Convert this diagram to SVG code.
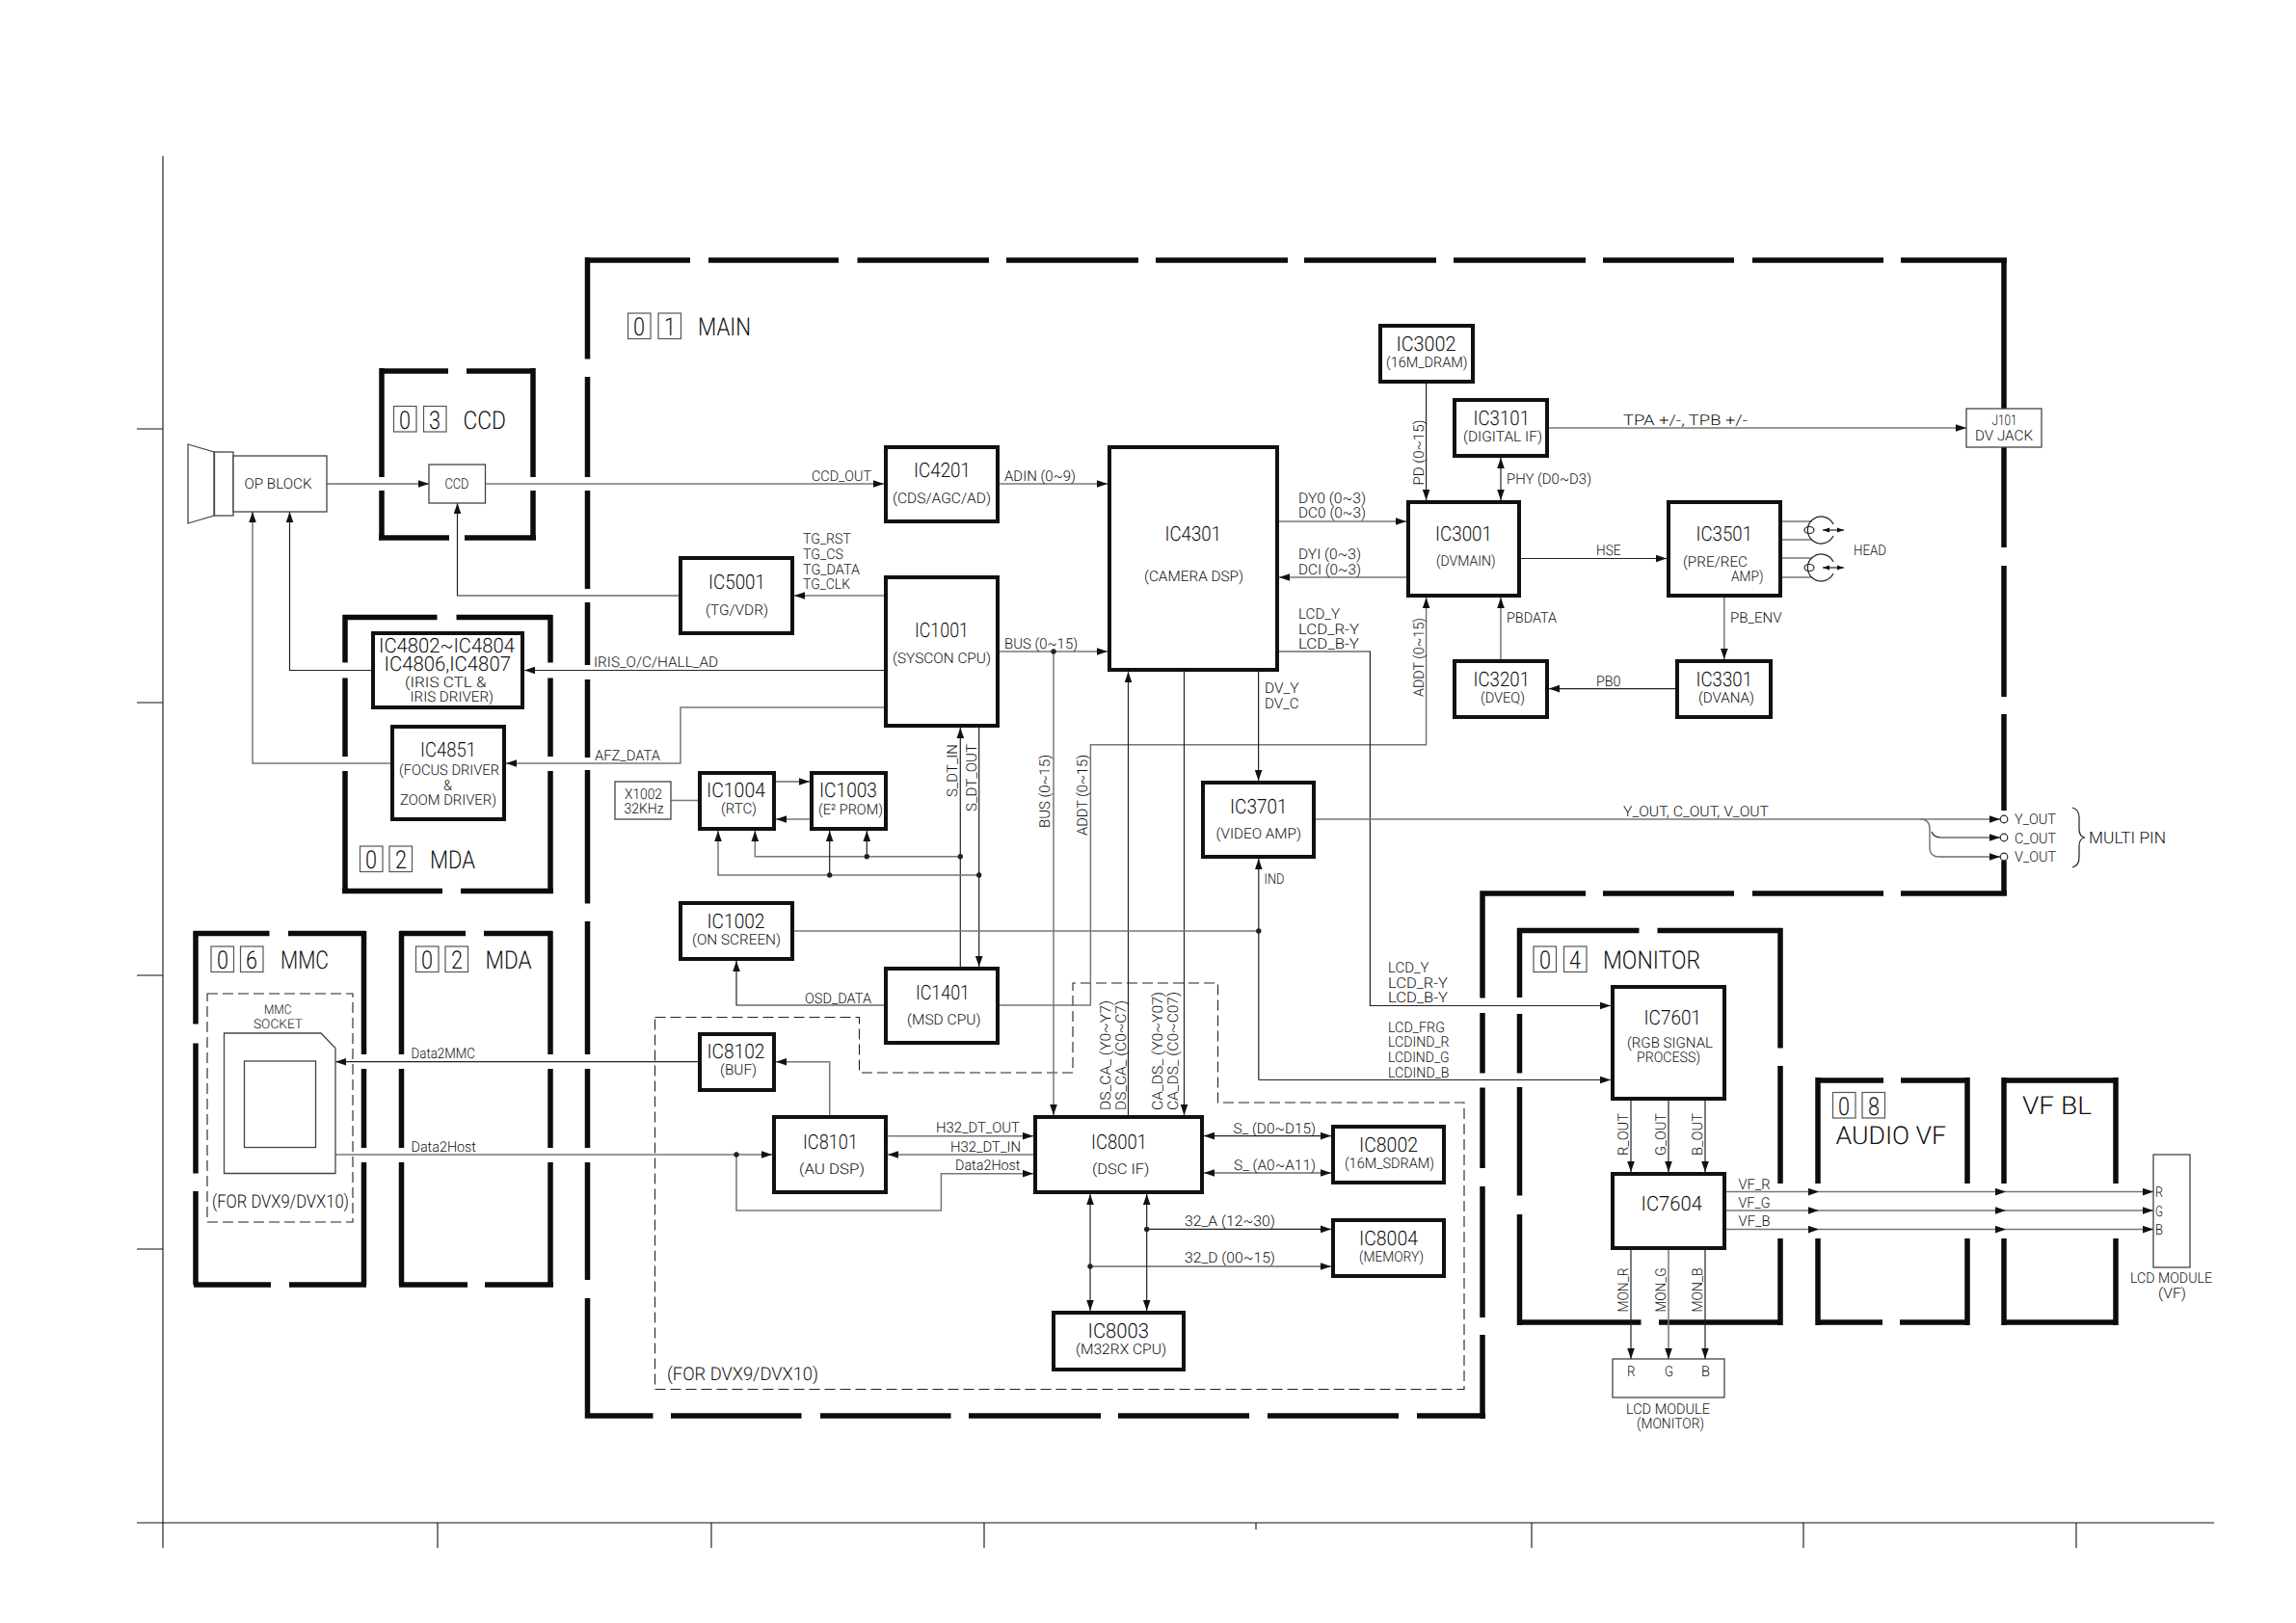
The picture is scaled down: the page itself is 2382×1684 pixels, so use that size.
<svg xmlns="http://www.w3.org/2000/svg" width="2382" height="1684" viewBox="0 0 2382 1684">
<style>
text{font-family:Roboto,"Liberation Sans",Arial,sans-serif;font-weight:300;fill:#111;text-rendering:geometricPrecision}
.a{font-size:21px}.b{font-size:15px}.c{font-size:26px}.d{font-size:26px}.e{font-size:13.5px}
.box{fill:#fff;stroke:#111;stroke-width:4}
.thin{fill:#fff;stroke:#444;stroke-width:1.3}
.sq{fill:#fff;stroke:#555;stroke-width:1.2}
.bar{fill:none;stroke:#0c0c0c;stroke-width:5.5}
.l{fill:none;stroke:#222;stroke-width:1.2}
.g{fill:none;stroke:#777;stroke-width:1.5}
.ar{marker-end:url(#ah)}
.dbl{marker-end:url(#ah);marker-start:url(#ah)}
.dash{fill:none;stroke:#222;stroke-width:1.1;stroke-dasharray:11 5}
.ax{fill:none;stroke:#111;stroke-width:1.1}
</style>
<defs>
<marker id="ah" markerUnits="userSpaceOnUse" markerWidth="12" markerHeight="9" refX="11" refY="4" orient="auto-start-reverse"><path d="M0 0.2L11 4L0 7.8z" fill="#111" stroke="none"/></marker>
<marker id="as" markerUnits="userSpaceOnUse" markerWidth="8" markerHeight="6" refX="7" refY="3" orient="auto-start-reverse"><path d="M0 0.5L7 3L0 5.5z" fill="#111" stroke="none"/></marker>
</defs>
<rect width="2382" height="1684" fill="#fff"/>

<g id="frame">
<path class="ax" d="M169 162V1606M142 445H169M142 729H169M142 1012H169M142 1296H169M454 1580V1606M738 1580V1606M1021 1580V1606M1303 1580V1587M1589 1580V1606M1871 1580V1606M2154 1580V1606"/>
<path class="ax" stroke-width="1.6" d="M142 1580H2297"/>
</g>

<g id="group-boxes">
<path id="box-main" class="bar" d="M607 270H716M735 270H870M889.5 270H1026M1044 270H1181M1199 270H1336M1353 270H1490M1508 270H1645M1663 270H1799M1818 270H1954M1972 270H2082M2079 270V424M2079 464V568M2079 587V723M2079 741V841M2079 893V927M2082 927H1972M1954 927H1818M1799 927H1663M1645 927H1538V1035.5M1538 1051V1113.5M1538 1128.5V1212M1538 1231V1367M1538 1385V1472M1541 1469H1470M1451 1469H1315M1296 1469H1160M1142 1469H1005M986.5 1469H851M831.5 1469H696M677.5 1469H609.5V1347M609.5 1328V1206M609.5 1191V1109M609.5 1094V956M609.5 937.5V799M609.5 786V705M609.5 690V625M609.5 611V509M609.5 495V391M609.5 372.5V267"/>
<path id="box-ccd" class="bar" d="M396 385H465M484 385H553M396 382V495M396 509V560M553 382V495M553 509V560M393 558H466M482 558H556"/>
<path id="box-mda1" class="bar" d="M356 640.5H453.5M473.5 640.5H572M358 638V687.5M358 703.5V785M358 800V927M571 638V687.5M571 703.5V785M571 800V927M355 924.5H459M478 924.5H574"/>
<path id="box-mmc" class="bar" d="M201 968.5H279.5M299 968.5H379M203 966V1062.5M203 1082.5V1217.5M203 1236V1333M377.5 966V1094M377.5 1109V1191M377.5 1206V1333M201 1333H281M300 1333H380"/>
<path id="box-mda2" class="bar" d="M415 968.5H483M502 968.5H573M416.5 966V1094M416.5 1109V1191M416.5 1206V1333M571 966V1094M571 1109V1191M571 1206V1333M414 1333H485M503 1333H574"/>
<path id="box-monitor" class="bar" d="M1574 965.5H1700.5M1719.5 965.5H1849M1576.5 963V1035M1576.5 1052V1113.5M1576.5 1128V1240.5M1576.5 1260V1375M1847 963V1087.5M1847 1106V1228M1847 1285V1375M1574 1372H1702.5M1721 1372H1849"/>
<path id="box-audiovf" class="bar" d="M1884 1121H1954M1972 1121H2042M1886 1118V1228M1886 1285V1375M2041 1118V1228M2041 1285V1375M1884 1372H1953M1971 1372H2042"/>
<path id="box-vfbl" class="bar" d="M2077 1121H2197M2079 1118V1228M2079 1285V1375M2195 1118V1228M2195 1285V1375M2077 1372H2197"/>
<path id="box-dvx" class="dash" d="M679.5 1055.5H891.5V1113H1113V1020H1263.5V1144H1519V1441.5H679.5Z"/>
<path id="box-dvx2" class="dash" d="M215 1031H366V1268H215Z"/>
</g>

<g id="group-labels">
<rect class="sq" x="651.5" y="325" width="23.5" height="26.5"/><rect class="sq" x="683" y="325" width="23.5" height="26.5"/><text class="d" x="657" y="347.5" textLength="12" lengthAdjust="spacingAndGlyphs">0</text><text class="d" x="689" y="347.5" textLength="12" lengthAdjust="spacingAndGlyphs">1</text><text class="c" x="724" y="347.5" textLength="55" lengthAdjust="spacingAndGlyphs">MAIN</text>
<rect class="sq" x="408.5" y="421.5" width="23.5" height="26.5"/><rect class="sq" x="439.5" y="421.5" width="23.5" height="26.5"/><text class="d" x="414" y="444.5" textLength="12" lengthAdjust="spacingAndGlyphs">0</text><text class="d" x="445" y="444.5" textLength="12" lengthAdjust="spacingAndGlyphs">3</text><text class="c" x="480.5" y="444.5" textLength="44.5" lengthAdjust="spacingAndGlyphs">CCD</text>
<rect class="sq" x="373.5" y="878" width="23.5" height="26.5"/><rect class="sq" x="404" y="878" width="23.5" height="26.5"/><text class="d" x="379" y="900.5" textLength="12" lengthAdjust="spacingAndGlyphs">0</text><text class="d" x="410" y="900.5" textLength="12" lengthAdjust="spacingAndGlyphs">2</text><text class="c" x="446" y="900.5" textLength="47" lengthAdjust="spacingAndGlyphs">MDA</text>
<rect class="sq" x="219" y="982" width="23.5" height="26.5"/><rect class="sq" x="249.5" y="982" width="23.5" height="26.5"/><text class="d" x="225" y="1005" textLength="12" lengthAdjust="spacingAndGlyphs">0</text><text class="d" x="255" y="1005" textLength="12" lengthAdjust="spacingAndGlyphs">6</text><text class="c" x="291" y="1005" textLength="50" lengthAdjust="spacingAndGlyphs">MMC</text>
<rect class="sq" x="431.5" y="982" width="23.5" height="26.5"/><rect class="sq" x="462" y="982" width="23.5" height="26.5"/><text class="d" x="437" y="1005" textLength="12" lengthAdjust="spacingAndGlyphs">0</text><text class="d" x="468" y="1005" textLength="12" lengthAdjust="spacingAndGlyphs">2</text><text class="c" x="503.5" y="1005" textLength="48" lengthAdjust="spacingAndGlyphs">MDA</text>
<rect class="sq" x="1591" y="982" width="23.5" height="26.5"/><rect class="sq" x="1622.5" y="982" width="23.5" height="26.5"/><text class="d" x="1597" y="1005" textLength="12" lengthAdjust="spacingAndGlyphs">0</text><text class="d" x="1628" y="1005" textLength="12" lengthAdjust="spacingAndGlyphs">4</text><text class="c" x="1663" y="1005" textLength="101" lengthAdjust="spacingAndGlyphs">MONITOR</text>
<rect class="sq" x="1901.5" y="1133.5" width="23.5" height="26.5"/><rect class="sq" x="1932" y="1133.5" width="23.5" height="26.5"/><text class="d" x="1907" y="1156.5" textLength="12" lengthAdjust="spacingAndGlyphs">0</text><text class="d" x="1938" y="1156.5" textLength="12" lengthAdjust="spacingAndGlyphs">8</text><text class="c" x="1904.5" y="1187" textLength="114.5" lengthAdjust="spacingAndGlyphs">AUDIO VF</text>
<text class="c" x="2098" y="1156" textLength="72" lengthAdjust="spacingAndGlyphs">VF BL</text>
<text class="b" x="692" y="1432" textLength="157" lengthAdjust="spacingAndGlyphs" style="font-size:19px">(FOR DVX9/DVX10)</text>
<text class="b" x="220" y="1253" textLength="142" lengthAdjust="spacingAndGlyphs" style="font-size:19px">(FOR DVX9/DVX10)</text>
</g>

<g id="connectors">
<path class="l ar" d="M339 502H445"/>
<path class="g ar" d="M504 502H917"/>
<path class="g ar" d="M1037 502H1149"/>
<path class="g ar" d="M1037 676H1149"/>
<path class="l ar" d="M705 618H474.5V522"/>
<path class="g ar" d="M917 618H824"/>
<path class="l ar" d="M917 695.5H544"/>
<path class="g ar" d="M917 734H706V792H525"/>
<path class="l ar" d="M386 695.5H300.5V531"/>
<path class="g ar" d="M405 792H262V531"/>
<path class="g" d="M696 830.5H724"/>
<path class="l ar" d="M805 811H840"/>
<path class="g ar" d="M840 850H805"/>
<path class="l ar" d="M996.3 1003V755"/>
<path class="l ar" d="M1015.7 755V1003"/>
<path class="g ar" d="M996.3 888.7H783.3V862"/>
<path class="l ar" d="M899.3 888.7V862"/>
<path class="g ar" d="M1015.7 908H745V862"/>
<path class="l ar" d="M860.7 908V862"/>
<path class="g ar" d="M1093 676V1157"/>
<path class="g ar" d="M1037 1043H1131.4V772.7H1479.6V620"/>
<path class="l ar" d="M1170.5 1157V697"/>
<path class="l ar" d="M1228.5 697V1157"/>
<path class="l ar" d="M1305.6 697V810"/>
<path class="l ar" d="M1327 676H1421.4V1043.5H1671"/>
<path class="g" d="M824 966H1305.8"/>
<path class="l ar" d="M1305.8 1120.5V891"/>
<path class="l ar" d="M1305.8 1120.5H1671"/>
<path class="l ar" d="M917 1043H764V997"/>
<path class="l ar" d="M724 1101.7H348"/>
<path class="g ar" d="M860.7 1157V1101.7H805"/>
<path class="g ar" d="M348 1198H801"/>
<path class="g ar" d="M764 1198V1256H976.4V1217.7H1072"/>
<path class="g ar" d="M921 1178.7H1072"/>
<path class="g ar" d="M1072 1198H921"/>
<path class="l dbl" d="M1249 1178.6H1381"/>
<path class="l dbl" d="M1249 1217H1381"/>
<path class="l dbl" d="M1131 1239V1360"/>
<path class="l dbl" d="M1189.7 1239V1360"/>
<path class="l ar" d="M1189.7 1275.4H1381"/>
<path class="l ar" d="M1131 1314H1381"/>
<path class="l ar" d="M1479.6 398V519"/>
<path class="l dbl" d="M1557 475V519"/>
<path class="g ar" d="M1607 444H2040"/>
<path class="g ar" d="M1327 541H1459"/>
<path class="g ar" d="M1459 599H1327"/>
<path class="l ar" d="M1578 579.5H1729"/>
<path class="g ar" d="M1557 684V620"/>
<path class="l ar" d="M1738 714.6H1607"/>
<path class="g ar" d="M1788.8 620V684"/>
<path class="g ar" d="M1365 850H2075"/>
<path class="g" d="M1992 850Q2002 850 2002 860V880Q2002 889 2012 889"/>
<path class="l ar" d="M2004 863Q2006 869 2014 869H2075"/>
<path class="l ar" d="M2012 889H2075"/>
<path class="l ar" d="M1692 1142V1216"/><path class="l ar" d="M1731 1142V1216"/><path class="l ar" d="M1769 1142V1216"/>
<path class="l ar" d="M1692 1297V1410"/><path class="g ar" d="M1731 1297V1410"/><path class="l ar" d="M1769 1297V1410"/>
<path class="g ar" d="M1791 1236.6H1887"/><path class="g ar" d="M1887 1236.6H2081"/><path class="g ar" d="M2081 1236.6H2234"/>
<path class="g ar" d="M1791 1256H1887"/><path class="g ar" d="M1887 1256H2081"/><path class="g ar" d="M2081 1256H2234"/>
<path class="g ar" d="M1791 1275.6H1887"/><path class="g ar" d="M1887 1275.6H2081"/><path class="g ar" d="M2081 1275.6H2234"/>
<g fill="#222"><circle cx="1093" cy="676" r="2.7"/><circle cx="996.3" cy="888.7" r="2.7"/><circle cx="899.3" cy="888.7" r="2.7"/><circle cx="1015.7" cy="908" r="2.7"/><circle cx="860.7" cy="908" r="2.7"/><circle cx="1305.8" cy="966" r="2.7"/><circle cx="764" cy="1198" r="2.7"/><circle cx="1189.7" cy="1275.4" r="2.7"/><circle cx="1131" cy="1314" r="2.7"/></g>
<g id="signal-labels">
<text class="b" x="842" y="498.5" textLength="62" lengthAdjust="spacingAndGlyphs">CCD_OUT</text>
<text class="b" x="1042" y="498.5" textLength="74" lengthAdjust="spacingAndGlyphs">ADIN (0~9)</text>
<text class="b" x="833" y="564" textLength="50" lengthAdjust="spacingAndGlyphs">TG_RST</text>
<text class="b" x="833" y="580" textLength="42" lengthAdjust="spacingAndGlyphs">TG_CS</text>
<text class="b" x="833" y="596" textLength="59" lengthAdjust="spacingAndGlyphs">TG_DATA</text>
<text class="b" x="833" y="611" textLength="49" lengthAdjust="spacingAndGlyphs">TG_CLK</text>
<text class="b" x="1042" y="673" textLength="76" lengthAdjust="spacingAndGlyphs">BUS (0~15)</text>
<text class="b" x="616" y="692" textLength="129" lengthAdjust="spacingAndGlyphs">IRIS_O/C/HALL_AD</text>
<text class="b" x="617" y="789" textLength="68" lengthAdjust="spacingAndGlyphs">AFZ_DATA</text>
<text class="b" x="0" y="0" transform="translate(993 827) rotate(-90)" textLength="55" lengthAdjust="spacingAndGlyphs">S_DT_IN</text>
<text class="b" x="0" y="0" transform="translate(1012.7 842) rotate(-90)" textLength="70" lengthAdjust="spacingAndGlyphs">S_DT_OUT</text>
<text class="b" x="0" y="0" transform="translate(1089 859) rotate(-90)" textLength="76" lengthAdjust="spacingAndGlyphs">BUS (0~15)</text>
<text class="b" x="0" y="0" transform="translate(1128 867) rotate(-90)" textLength="84" lengthAdjust="spacingAndGlyphs">ADDT (0~15)</text>
<text class="b" x="835" y="1041" textLength="69" lengthAdjust="spacingAndGlyphs">OSD_DATA</text>
<text class="b" x="426.5" y="1098" textLength="66.5" lengthAdjust="spacingAndGlyphs">Data2MMC</text>
<text class="b" x="426.5" y="1194.5" textLength="67.5" lengthAdjust="spacingAndGlyphs">Data2Host</text>
<text class="b" x="971" y="1175" textLength="87" lengthAdjust="spacingAndGlyphs">H32_DT_OUT</text>
<text class="b" x="986" y="1195" textLength="73" lengthAdjust="spacingAndGlyphs">H32_DT_IN</text>
<text class="b" x="991" y="1214" textLength="67.5" lengthAdjust="spacingAndGlyphs">Data2Host</text>
<text class="b" x="0" y="0" transform="translate(1152 1152) rotate(-90)" textLength="114" lengthAdjust="spacingAndGlyphs">DS_CA_ (Y0~Y7)</text>
<text class="b" x="0" y="0" transform="translate(1167.5 1152) rotate(-90)" textLength="114" lengthAdjust="spacingAndGlyphs">DS_CA_ (C0~C7)</text>
<text class="b" x="0" y="0" transform="translate(1206 1152) rotate(-90)" textLength="123" lengthAdjust="spacingAndGlyphs">CA_DS_ (Y0~Y07)</text>
<text class="b" x="0" y="0" transform="translate(1222 1152) rotate(-90)" textLength="123" lengthAdjust="spacingAndGlyphs">CA_DS_ (C0~C07)</text>
<text class="b" x="1279.5" y="1175.5" textLength="85.5" lengthAdjust="spacingAndGlyphs">S_ (D0~D15)</text>
<text class="b" x="1280" y="1214" textLength="85" lengthAdjust="spacingAndGlyphs">S_ (A0~A11)</text>
<text class="b" x="1229" y="1272" textLength="94" lengthAdjust="spacingAndGlyphs">32_A (12~30)</text>
<text class="b" x="1229" y="1310" textLength="94" lengthAdjust="spacingAndGlyphs">32_D (00~15)</text>
<text class="b" x="1440" y="1009" textLength="42.5" lengthAdjust="spacingAndGlyphs">LCD_Y</text>
<text class="b" x="1440" y="1025" textLength="62" lengthAdjust="spacingAndGlyphs">LCD_R-Y</text>
<text class="b" x="1440" y="1040" textLength="62" lengthAdjust="spacingAndGlyphs">LCD_B-Y</text>
<text class="b" x="1440" y="1071" textLength="59" lengthAdjust="spacingAndGlyphs">LCD_FRG</text>
<text class="b" x="1440" y="1086" textLength="63.5" lengthAdjust="spacingAndGlyphs">LCDIND_R</text>
<text class="b" x="1440" y="1102" textLength="63.5" lengthAdjust="spacingAndGlyphs">LCDIND_G</text>
<text class="b" x="1440" y="1118" textLength="63.5" lengthAdjust="spacingAndGlyphs">LCDIND_B</text>
<text class="b" x="1311.5" y="916.5" textLength="21" lengthAdjust="spacingAndGlyphs">IND</text>
<text class="b" x="1347" y="521.5" textLength="70" lengthAdjust="spacingAndGlyphs">DY0 (0~3)</text>
<text class="b" x="1347" y="537" textLength="70" lengthAdjust="spacingAndGlyphs">DC0 (0~3)</text>
<text class="b" x="1347" y="579.5" textLength="65" lengthAdjust="spacingAndGlyphs">DYI (0~3)</text>
<text class="b" x="1347" y="595.5" textLength="65" lengthAdjust="spacingAndGlyphs">DCI (0~3)</text>
<text class="b" x="1347" y="642" textLength="43" lengthAdjust="spacingAndGlyphs">LCD_Y</text>
<text class="b" x="1347" y="657.5" textLength="63" lengthAdjust="spacingAndGlyphs">LCD_R-Y</text>
<text class="b" x="1347" y="673" textLength="63" lengthAdjust="spacingAndGlyphs">LCD_B-Y</text>
<text class="b" x="1312" y="719" textLength="35.5" lengthAdjust="spacingAndGlyphs">DV_Y</text>
<text class="b" x="1312" y="735" textLength="35.5" lengthAdjust="spacingAndGlyphs">DV_C</text>
<text class="b" x="0" y="0" transform="translate(1476.5 503.5) rotate(-90)" textLength="68" lengthAdjust="spacingAndGlyphs">PD (0~15)</text>
<text class="b" x="0" y="0" transform="translate(1476.5 723) rotate(-90)" textLength="82" lengthAdjust="spacingAndGlyphs">ADDT (0~15)</text>
<text class="b" x="1563" y="502" textLength="88" lengthAdjust="spacingAndGlyphs">PHY (D0~D3)</text>
<text class="b" x="1684" y="441" textLength="129" lengthAdjust="spacingAndGlyphs">TPA +/-, TPB +/-</text>
<text class="b" x="1656" y="576" textLength="25.5" lengthAdjust="spacingAndGlyphs">HSE</text>
<text class="b" x="1563" y="645.5" textLength="52" lengthAdjust="spacingAndGlyphs">PBDATA</text>
<text class="b" x="1795" y="645.5" textLength="53.5" lengthAdjust="spacingAndGlyphs">PB_ENV</text>
<text class="b" x="1656" y="711.5" textLength="25.5" lengthAdjust="spacingAndGlyphs">PB0</text>
<text class="b" x="1684" y="847" textLength="151" lengthAdjust="spacingAndGlyphs">Y_OUT, C_OUT, V_OUT</text>
<text class="b" x="0" y="0" transform="translate(1689 1199) rotate(-90)" textLength="44" lengthAdjust="spacingAndGlyphs">R_OUT</text>
<text class="b" x="0" y="0" transform="translate(1728 1199) rotate(-90)" textLength="44" lengthAdjust="spacingAndGlyphs">G_OUT</text>
<text class="b" x="0" y="0" transform="translate(1766 1199) rotate(-90)" textLength="44" lengthAdjust="spacingAndGlyphs">B_OUT</text>
<text class="b" x="0" y="0" transform="translate(1689 1361.5) rotate(-90)" textLength="46" lengthAdjust="spacingAndGlyphs">MON_R</text>
<text class="b" x="0" y="0" transform="translate(1728 1361.5) rotate(-90)" textLength="46" lengthAdjust="spacingAndGlyphs">MON_G</text>
<text class="b" x="0" y="0" transform="translate(1766 1361.5) rotate(-90)" textLength="46" lengthAdjust="spacingAndGlyphs">MON_B</text>
<text class="b" x="1803.5" y="1233.5" textLength="33" lengthAdjust="spacingAndGlyphs">VF_R</text>
<text class="b" x="1803.5" y="1253" textLength="33" lengthAdjust="spacingAndGlyphs">VF_G</text>
<text class="b" x="1803.5" y="1272" textLength="33" lengthAdjust="spacingAndGlyphs">VF_B</text>
</g>
</g>

<g id="op-block"><path class="thin" d="M195 461L222 469V535L195 543Z"/><rect class="thin" x="222.5" y="469" width="19.5" height="66"/><rect class="thin" x="242" y="473" width="97" height="58"/><text class="b" x="253.5" y="506.5" textLength="70" lengthAdjust="spacingAndGlyphs">OP BLOCK</text></g>
<g id="ccd"><rect class="thin" x="445" y="482" width="58.5" height="40"/><text class="b" x="461.5" y="507" textLength="25" lengthAdjust="spacingAndGlyphs">CCD</text></g>
<g id="x1002"><rect class="thin" x="638" y="811" width="58" height="39"/><text class="b" x="648" y="829" textLength="39" lengthAdjust="spacingAndGlyphs">X1002</text><text class="b" x="647.5" y="844" textLength="41" lengthAdjust="spacingAndGlyphs">32KHz</text></g>

<g id="ic4201"><rect class="box" x="919" y="464" width="116" height="77"/><text class="a" x="948" y="495" textLength="59" lengthAdjust="spacingAndGlyphs">IC4201</text><text class="b" x="926" y="522" textLength="102" lengthAdjust="spacingAndGlyphs">(CDS/AGC/AD)</text></g>
<g id="ic4301"><rect class="box" x="1151" y="464" width="174" height="231"/><text class="a" x="1208.5" y="561" textLength="58.5" lengthAdjust="spacingAndGlyphs">IC4301</text><text class="b" x="1187" y="602.5" textLength="103" lengthAdjust="spacingAndGlyphs">(CAMERA DSP)</text></g>
<g id="ic5001"><rect class="box" x="706" y="579" width="116" height="78"/><text class="a" x="735" y="611" textLength="59" lengthAdjust="spacingAndGlyphs">IC5001</text><text class="b" x="732" y="638" textLength="65" lengthAdjust="spacingAndGlyphs">(TG/VDR)</text></g>
<g id="ic1001"><rect class="box" x="919" y="599" width="116" height="154"/><text class="a" x="949" y="661" textLength="56" lengthAdjust="spacingAndGlyphs">IC1001</text><text class="b" x="926" y="688" textLength="102" lengthAdjust="spacingAndGlyphs">(SYSCON CPU)</text></g>
<g id="ic1004"><rect class="box" x="726" y="802" width="77" height="58"/><text class="a" x="733" y="827" textLength="61" lengthAdjust="spacingAndGlyphs">IC1004</text><text class="b" x="748" y="844" textLength="37" lengthAdjust="spacingAndGlyphs">(RTC)</text></g>
<g id="ic1003"><rect class="box" x="842" y="802" width="77" height="58"/><text class="a" x="850" y="827" textLength="60" lengthAdjust="spacingAndGlyphs">IC1003</text><text class="b" x="849" y="845" textLength="67" lengthAdjust="spacingAndGlyphs">(E² PROM)</text></g>
<g id="ic1002"><rect class="box" x="706" y="937" width="116" height="58"/><text class="a" x="733.5" y="963" textLength="60" lengthAdjust="spacingAndGlyphs">IC1002</text><text class="b" x="718" y="980" textLength="92" lengthAdjust="spacingAndGlyphs">(ON SCREEN)</text></g>
<g id="ic1401"><rect class="box" x="919" y="1005" width="116" height="77"/><text class="a" x="950" y="1037" textLength="56" lengthAdjust="spacingAndGlyphs">IC1401</text><text class="b" x="941" y="1063" textLength="76.5" lengthAdjust="spacingAndGlyphs">(MSD CPU)</text></g>
<g id="ic8102"><rect class="box" x="726" y="1073" width="77" height="58"/><text class="a" x="733.5" y="1098" textLength="60" lengthAdjust="spacingAndGlyphs">IC8102</text><text class="b" x="747" y="1115" textLength="38" lengthAdjust="spacingAndGlyphs">(BUF)</text></g>
<g id="ic8101"><rect class="box" x="803" y="1159" width="116" height="78"/><text class="a" x="833" y="1192" textLength="57" lengthAdjust="spacingAndGlyphs">IC8101</text><text class="b" x="829" y="1218" textLength="68" lengthAdjust="spacingAndGlyphs">(AU DSP)</text></g>
<g id="ic8001"><rect class="box" x="1074" y="1159" width="173" height="78"/><text class="a" x="1132" y="1192" textLength="58" lengthAdjust="spacingAndGlyphs">IC8001</text><text class="b" x="1133" y="1218" textLength="59.5" lengthAdjust="spacingAndGlyphs">(DSC IF)</text></g>
<g id="ic8002"><rect class="box" x="1383" y="1169" width="115" height="58"/><text class="a" x="1410" y="1195" textLength="61" lengthAdjust="spacingAndGlyphs">IC8002</text><text class="b" x="1395" y="1212" textLength="93" lengthAdjust="spacingAndGlyphs">(16M_SDRAM)</text></g>
<g id="ic8004"><rect class="box" x="1383" y="1266" width="115" height="58"/><text class="a" x="1410" y="1291.5" textLength="61" lengthAdjust="spacingAndGlyphs">IC8004</text><text class="b" x="1410" y="1309" textLength="67" lengthAdjust="spacingAndGlyphs">(MEMORY)</text></g>
<g id="ic8003"><rect class="box" x="1093" y="1362" width="135" height="59"/><text class="a" x="1128.5" y="1388" textLength="63.5" lengthAdjust="spacingAndGlyphs">IC8003</text><text class="b" x="1116" y="1405" textLength="94" lengthAdjust="spacingAndGlyphs">(M32RX CPU)</text></g>
<g id="ic3701"><rect class="box" x="1248" y="812" width="115" height="77"/><text class="a" x="1276" y="843.5" textLength="59.5" lengthAdjust="spacingAndGlyphs">IC3701</text><text class="b" x="1261.5" y="870" textLength="88.5" lengthAdjust="spacingAndGlyphs">(VIDEO AMP)</text></g>
<g id="ic3002"><rect class="box" x="1432" y="338" width="96" height="58"/><text class="a" x="1448.5" y="364" textLength="62" lengthAdjust="spacingAndGlyphs">IC3002</text><text class="b" x="1438" y="380.5" textLength="84.5" lengthAdjust="spacingAndGlyphs">(16M_DRAM)</text></g>
<g id="ic3101"><rect class="box" x="1509" y="415" width="96" height="58"/><text class="a" x="1528.5" y="441" textLength="58.5" lengthAdjust="spacingAndGlyphs">IC3101</text><text class="b" x="1518" y="458" textLength="82" lengthAdjust="spacingAndGlyphs">(DIGITAL IF)</text></g>
<g id="ic3001"><rect class="box" x="1461" y="521" width="115" height="97"/><text class="a" x="1489" y="561" textLength="59" lengthAdjust="spacingAndGlyphs">IC3001</text><text class="b" x="1490" y="587" textLength="61.5" lengthAdjust="spacingAndGlyphs">(DVMAIN)</text></g>
<g id="ic3501"><rect class="box" x="1731" y="521" width="116" height="97"/><text class="a" x="1759.5" y="561" textLength="58.5" lengthAdjust="spacingAndGlyphs">IC3501</text><text class="b" x="1746" y="588" textLength="67" lengthAdjust="spacingAndGlyphs">(PRE/REC</text><text class="b" x="1796" y="603" textLength="33.5" lengthAdjust="spacingAndGlyphs">AMP)</text></g>
<g id="ic3201"><rect class="box" x="1509" y="686" width="96" height="58"/><text class="a" x="1528.5" y="712" textLength="58.5" lengthAdjust="spacingAndGlyphs">IC3201</text><text class="b" x="1536" y="729" textLength="46" lengthAdjust="spacingAndGlyphs">(DVEQ)</text></g>
<g id="ic3301"><rect class="box" x="1740" y="686" width="97" height="58"/><text class="a" x="1759.5" y="712" textLength="58.5" lengthAdjust="spacingAndGlyphs">IC3301</text><text class="b" x="1762" y="729" textLength="58" lengthAdjust="spacingAndGlyphs">(DVANA)</text></g>
<g id="ic7601"><rect class="box" x="1673" y="1024" width="116" height="116"/><text class="a" x="1705.5" y="1063" textLength="59.5" lengthAdjust="spacingAndGlyphs">IC7601</text><text class="b" x="1688" y="1087" textLength="89" lengthAdjust="spacingAndGlyphs">(RGB SIGNAL</text><text class="b" x="1698" y="1102" textLength="66" lengthAdjust="spacingAndGlyphs">PROCESS)</text></g>
<g id="ic7604"><rect class="box" x="1673" y="1218" width="116" height="77"/><text class="a" x="1702.5" y="1256" textLength="63.5" lengthAdjust="spacingAndGlyphs">IC7604</text></g>
<g id="ic4802"><rect class="box" x="387" y="657" width="155" height="77"/><text class="a" x="393" y="677" textLength="141" lengthAdjust="spacingAndGlyphs">IC4802~IC4804</text><text class="a" x="398.5" y="696" textLength="131.5" lengthAdjust="spacingAndGlyphs">IC4806,IC4807</text><text class="b" x="420" y="713" textLength="84.5" lengthAdjust="spacingAndGlyphs">(IRIS CTL &amp;</text><text class="b" x="425.5" y="728" textLength="86.5" lengthAdjust="spacingAndGlyphs">IRIS DRIVER)</text></g>
<g id="ic4851"><rect class="box" x="407" y="754" width="116" height="96"/><text class="a" x="436" y="785" textLength="58" lengthAdjust="spacingAndGlyphs">IC4851</text><text class="b" x="414" y="804" textLength="104" lengthAdjust="spacingAndGlyphs">(FOCUS DRIVER</text><text class="b" x="460" y="819.5" textLength="9" lengthAdjust="spacingAndGlyphs">&amp;</text><text class="b" x="415" y="835" textLength="100" lengthAdjust="spacingAndGlyphs">ZOOM DRIVER)</text></g>

<g id="mmc-socket"><path class="thin" d="M232.5 1072H333L348 1087.5V1217.5H232.5Z"/><rect class="thin" x="253.5" y="1101" width="74" height="89.5"/><text class="e" x="274" y="1052" textLength="28.5" lengthAdjust="spacingAndGlyphs">MMC</text><text class="e" x="263" y="1067" textLength="51" lengthAdjust="spacingAndGlyphs">SOCKET</text></g>
<g id="j101"><rect class="thin" x="2040" y="424" width="78" height="40"/><text class="b" x="2066.5" y="441" textLength="26" lengthAdjust="spacingAndGlyphs">J101</text><text class="b" x="2049" y="457" textLength="60" lengthAdjust="spacingAndGlyphs">DV JACK</text></g>
<g id="lcd-monitor"><rect class="thin" x="1673" y="1410" width="116" height="40"/><text class="b" x="1688" y="1428" textLength="8.5" lengthAdjust="spacingAndGlyphs">R</text><text class="b" x="1727" y="1428" textLength="9" lengthAdjust="spacingAndGlyphs">G</text><text class="b" x="1765" y="1428" textLength="9" lengthAdjust="spacingAndGlyphs">B</text><text class="b" x="1687" y="1466.5" textLength="87" lengthAdjust="spacingAndGlyphs">LCD MODULE</text><text class="b" x="1698" y="1481.5" textLength="70" lengthAdjust="spacingAndGlyphs">(MONITOR)</text></g>
<g id="lcd-vf"><rect class="thin" x="2234" y="1198" width="38" height="117"/><text class="b" x="2236" y="1242" textLength="8" lengthAdjust="spacingAndGlyphs">R</text><text class="b" x="2236" y="1261.5" textLength="8" lengthAdjust="spacingAndGlyphs">G</text><text class="b" x="2236" y="1281" textLength="8" lengthAdjust="spacingAndGlyphs">B</text><text class="b" x="2210" y="1331" textLength="85" lengthAdjust="spacingAndGlyphs">LCD MODULE</text><text class="b" x="2239" y="1346.5" textLength="29" lengthAdjust="spacingAndGlyphs">(VF)</text></g>
<g id="head">
<path class="g" d="M1849 541H1880M1849 560H1880M1849 579H1880M1849 599H1880"/>
<path class="l" d="M1902 544A14 14 0 1 0 1902 556M1902 583A14 14 0 1 0 1902 595"/>
<ellipse class="l" cx="1877" cy="550" rx="5" ry="3.5"/><ellipse class="l" cx="1877" cy="589" rx="5" ry="3.5"/>
<path class="l" d="M1891 550H1913" marker-start="url(#as)" marker-end="url(#as)"/><path class="l" d="M1891 589H1913" marker-start="url(#as)" marker-end="url(#as)"/>
<text class="b" x="1923" y="576" textLength="34" lengthAdjust="spacingAndGlyphs">HEAD</text>
</g>
<g id="multi-pin">
<circle cx="2079" cy="850" r="3.8" fill="#fff" stroke="#222" stroke-width="1.2"/><circle cx="2079" cy="869" r="3.8" fill="#fff" stroke="#222" stroke-width="1.2"/><circle cx="2079" cy="889" r="3.8" fill="#fff" stroke="#222" stroke-width="1.2"/>
<text class="b" x="2090" y="855" textLength="43" lengthAdjust="spacingAndGlyphs">Y_OUT</text><text class="b" x="2090" y="875" textLength="43" lengthAdjust="spacingAndGlyphs">C_OUT</text><text class="b" x="2090" y="894" textLength="43" lengthAdjust="spacingAndGlyphs">V_OUT</text>
<path class="l" d="M2150 838Q2157 840 2157 848V860Q2157 868 2163 869Q2157 870 2157 878V890Q2157 898 2150 900"/>
<text class="b" x="2167" y="875" textLength="80" lengthAdjust="spacingAndGlyphs" style="font-size:17px">MULTI PIN</text>
</g>
</svg>
